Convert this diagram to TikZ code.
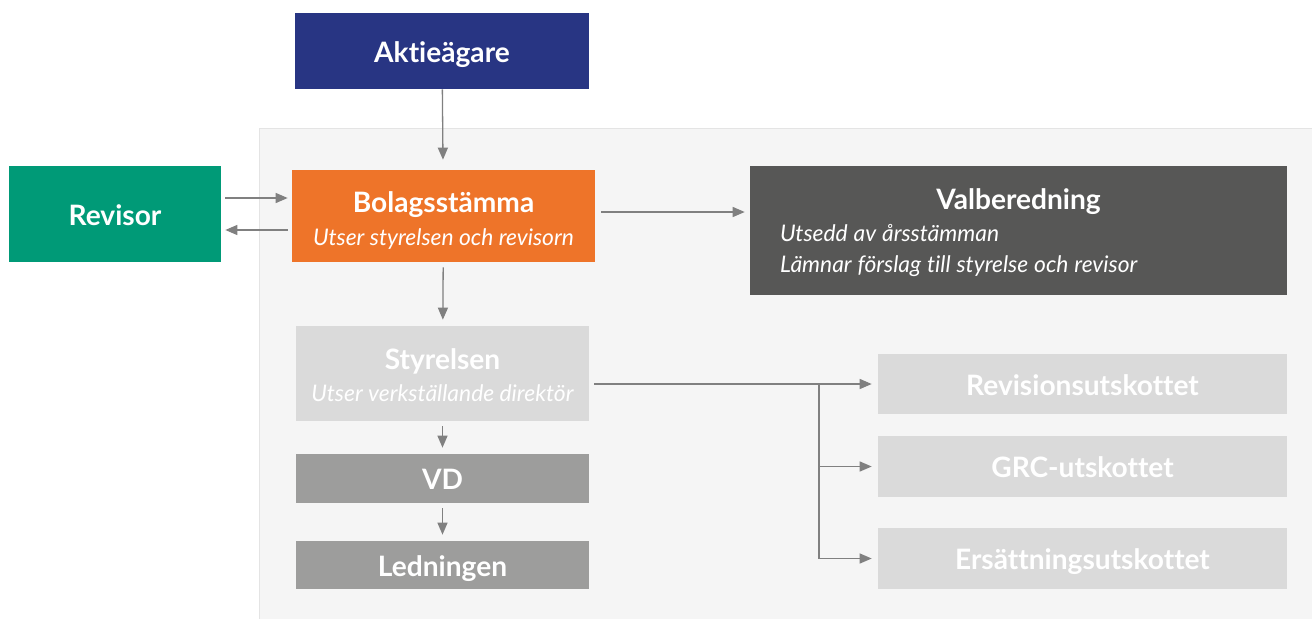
\documentclass[tikz,border=0pt]{standalone}
\usepackage{fontspec}
\setmainfont{Lato}[Ligatures={NoCommon}]
\usetikzlibrary{arrows.meta,positioning}
\definecolor{owner blue}{HTML}{283583}
\definecolor{auditor green}{HTML}{009A77}
\definecolor{meeting orange}{HTML}{EE7429}
\definecolor{nomination gray}{HTML}{575756}
\definecolor{board gray}{HTML}{DADADA}
\definecolor{ceo gray}{HTML}{9D9D9C}
\definecolor{panel gray}{HTML}{F5F5F5}
\definecolor{panel line}{HTML}{E4E4E4}
\definecolor{link gray}{HTML}{808080}
\newcommand{\boxtitle}{\fontsize{16pt}{19pt}\selectfont\bfseries}
\newcommand{\boxnote}{\fontsize{13pt}{19pt}\selectfont\itshape}

\begin{document}
\begin{tikzpicture}[x=0.02cm, y=-0.02cm,
		govbox/.style = {text=white, inner sep=0pt, align=center},
		oneline/.style = {text height=13pt, text depth=0pt},
		link/.style = {draw=link gray, line width=0.026cm,
			-{Triangle[length=0.24cm, width=0.2cm]}},
		gap/.style = {shorten <=0.1cm, shorten >=0.12cm}]
			\useasboundingbox (0, 0) rectangle (1312, 619);
			% panel behind the company
			\begin{scope}
				\fill[panel gray] (259, 128) rectangle (1312, 619);
				\draw[panel line] (1312, 128) -- (259, 128) -- (259, 619);
			\end{scope}
			% boxes
			\node[govbox, oneline, fill=owner blue, minimum width=5.88cm, minimum height=1.52cm]
				(owners) at (442, 51) {\boxtitle Aktieägare};
			\node[govbox, oneline, fill=auditor green, minimum width=4.24cm, minimum height=1.92cm]
				(auditor) at (115, 214) {\boxtitle Revisor};
			\node[govbox, fill=meeting orange, minimum width=6.06cm, minimum height=1.84cm]
				(agm) at (443.5, 216)
				{\rule{0pt}{17pt}\boxtitle Bolagsstämma\\[5pt] \boxnote Utser styrelsen och revisorn};
			\node[govbox, fill=nomination gray, minimum width=10.74cm, minimum height=2.58cm,
				text width=9.54cm, align=left]
				(nomination) at (1018.5, 230.5)
				{\rule{0pt}{14.5pt}\hfill{\boxtitle Valberedning}\hfill\null\\[-1pt]
				 \boxnote Utsedd av årsstämman\\[6pt] \boxnote Lämnar förslag till styrelse och revisor};
			\node[govbox, fill=board gray, minimum width=5.86cm, minimum height=1.9cm]
				(board) at (442.5, 373.5)
				{\rule{0pt}{14pt}\boxtitle Styrelsen\\[5pt] \boxnote Utser verkställande direktör};
			\node[govbox, oneline, fill=ceo gray, minimum width=5.86cm, minimum height=0.98cm]
				(ceo) at (442.5, 478.5) {\boxtitle VD};
			\node[govbox, oneline, fill=ceo gray, minimum width=5.86cm, minimum height=0.96cm]
				(mgmt) at (442.5, 565) {\boxtitle Ledningen};
			\node[govbox, oneline, fill=board gray, minimum width=8.18cm, minimum height=1.2cm]
				(audit) at (1082.5, 384) {\boxtitle Revisionsutskottet};
			\node[govbox, oneline, fill=board gray, minimum width=8.18cm, minimum height=1.22cm]
				(grc) at (1082.5, 466.5) {\boxtitle GRC-utskottet};
			\node[govbox, oneline, fill=board gray, minimum width=8.18cm, minimum height=1.22cm]
				(pay) at (1082.5, 558.5) {\boxtitle Ersättningsutskottet};
			% arrows
			\draw[link, shorten >=0.2cm] (owners) -- (agm);
			\draw[link, shorten <=0.08cm, shorten >=0.08cm]
				([yshift=0.36cm]auditor.east |- agm.west) -- ([yshift=0.36cm]agm.west);
			\draw[link, shorten <=0.08cm, shorten >=0.08cm]
				([yshift=-0.28cm]agm.west) -- ([yshift=-0.28cm]auditor.east |- agm.west);
			\draw[link, shorten <=0.12cm, shorten >=0.1cm]
				([yshift=0.08cm]agm.east) -- ([yshift=0.08cm]agm.east -| nomination.west);
			\draw[link, gap] (agm) -- (board);
			\draw[link, gap] (board) -- (ceo);
			\draw[link, gap] (ceo) -- (mgmt);
			% committees
			\coordinate (split) at (819, 384);
			\draw[link, gap] (board.east |- audit.west) -- (audit.west);
			\draw[link, shorten >=0.12cm] (split) |- (grc.west);
			\draw[link, shorten >=0.12cm] (split) |- (pay.west);
		\end{tikzpicture}
\end{document}
